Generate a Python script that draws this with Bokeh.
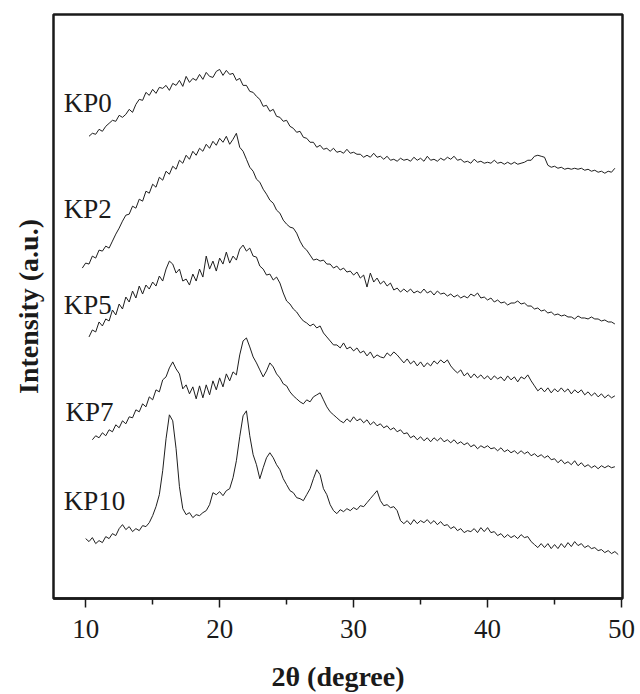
import numpy as np
from bokeh.plotting import figure
from bokeh.models import Range1d, FixedTicker, Label, Title
from bokeh.embed import file_html
from bokeh.resources import INLINE

STEP = 0.25
sample_names = ["KP0", "KP2", "KP5", "KP7", "KP10"]
start_deg = {"KP0": 10.25, "KP2": 9.75, "KP5": 10.25, "KP7": 10.5, "KP10": 10.0}

kp0 = [463, 466, 465, 470, 468, 473, 476, 479,
       478, 484, 482, 485, 490, 487, 495, 500,
       499, 507, 504, 510, 506, 512, 511, 514,
       509, 516, 514, 519, 513, 523, 517, 521,
       519, 525, 520, 527, 523, 522, 528, 530,
       524, 529, 525, 526, 519, 521, 514, 514,
       508, 507, 503, 500, 493, 494, 488, 490,
       483, 482, 478, 479, 473, 471, 467, 468,
       462, 461, 457, 457, 452, 454, 450, 451,
       448, 451, 447, 448, 446, 450, 446, 447,
       445, 445, 442, 444, 442, 446, 442, 443,
       440, 443, 439, 440, 438, 441, 439, 440,
       438, 442, 439, 441, 438, 443, 439, 440,
       438, 441, 439, 442, 440, 443, 439, 440,
       437, 438, 436, 440, 437, 438, 436, 437,
       436, 439, 436, 437, 435, 437, 435, 437,
       435, 436, 437, 439, 439, 443, 444, 443,
       442, 434, 432, 433, 431, 432, 430, 431,
       430, 431, 430, 431, 429, 430, 428, 429,
       427, 428, 426, 428, 427, 431]

kp2 = [331, 336, 335, 343, 341, 349, 348, 353,
       351, 358, 365, 371, 378, 384, 385, 393,
       391, 400, 398, 408, 406, 415, 412, 422,
       419, 428, 425, 433, 430, 439, 436, 444,
       440, 448, 444, 451, 448, 455, 451, 458,
       454, 461, 457, 463, 455, 460, 466, 452,
       448, 440, 432, 428, 420, 417, 410, 405,
       399, 396, 389, 386, 379, 375, 372, 371,
       366, 358, 352, 349, 344, 339, 340, 338,
       339, 335, 335, 331, 333, 329, 331, 327,
       328, 324, 327, 321, 324, 312, 326, 317,
       321, 315, 318, 313, 316, 309, 311, 307,
       310, 307, 310, 306, 308, 306, 310, 306,
       308, 304, 308, 305, 306, 303, 305, 302,
       304, 301, 303, 301, 305, 303, 306, 301,
       302, 299, 301, 297, 299, 296, 297, 294,
       296, 296, 298, 295, 296, 293, 293, 290,
       291, 288, 289, 286, 287, 284, 285, 283,
       284, 282, 282, 280, 283, 281, 281, 280,
       282, 280, 280, 278, 279, 277, 277, 275]

kp5 = [262, 269, 267, 277, 273, 280, 278, 289,
       284, 295, 290, 302, 297, 308, 301, 313,
       305, 314, 310, 317, 313, 323, 318, 330,
       338, 335, 326, 330, 318, 320, 314, 325,
       318, 330, 322, 343, 330, 338, 328, 341,
       335, 347, 336, 343, 339, 350, 354, 348,
       351, 343, 342, 333, 330, 324, 325, 319,
       322, 316, 306, 298, 295, 290, 287, 282,
       278, 276, 273, 275, 271, 273, 266, 262,
       258, 254, 254, 251, 256, 250, 252, 248,
       251, 246, 248, 243, 247, 241, 244, 242,
       241, 246, 243, 247, 244, 240, 236, 240,
       235, 238, 233, 237, 232, 236, 233, 238,
       235, 239, 236, 239, 233, 229, 226, 229,
       223, 226, 221, 225, 221, 224, 220, 223,
       219, 223, 220, 222, 218, 223, 219, 222,
       217, 222, 220, 224, 218, 213, 208, 211,
       207, 211, 206, 210, 207, 211, 207, 210,
       205, 209, 206, 209, 204, 207, 203, 206,
       202, 205, 201, 204, 201, 203]

kp7 = [159, 163, 161, 166, 163, 169, 167, 174,
       171, 178, 175, 182, 181, 189, 187, 195,
       192, 202, 199, 209, 207, 219, 222, 231,
       237, 230, 225, 210, 214, 205, 212, 200,
       213, 201, 214, 204, 218, 209, 221, 212,
       225, 218, 227, 224, 244, 258, 261, 252,
       242, 236, 229, 222, 228, 236, 232, 225,
       221, 215, 213, 207, 203, 200, 197, 195,
       199, 197, 202, 204, 206, 199, 192, 187,
       184, 181, 178, 176, 180, 177, 182, 178,
       180, 176, 179, 174, 177, 173, 175, 171,
       173, 169, 171, 167, 169, 165, 166, 161,
       163, 159, 162, 158, 161, 157, 161, 158,
       161, 157, 159, 156, 159, 155, 157, 154,
       156, 152, 154, 150, 153, 151, 153, 150,
       151, 148, 151, 147, 149, 146, 148, 145,
       148, 145, 147, 143, 145, 142, 144, 141,
       143, 139, 140, 136, 139, 135, 137, 134,
       138, 133, 136, 132, 134, 131, 133, 130,
       133, 131, 133, 131, 132]

kp10 = [60, 57, 61, 55, 58, 56, 62, 60, 65, 63, 70, 74, 69, 72, 67, 70, 68, 73, 72, 76,
        83, 92, 104, 128, 160, 184, 178, 150, 112, 90, 84, 86, 81, 84, 83, 86, 88, 94, 106, 104,
        107, 103, 108, 110, 121, 138, 162, 183, 188, 163, 144, 134, 120, 131, 141, 146, 141, 134, 129, 120,
        114, 108, 106, 101, 100, 98, 104, 110, 120, 129, 124, 110, 104, 94, 88, 85, 89, 87, 90, 88,
        91, 89, 93, 92, 96, 100, 104, 108, 98, 93, 94, 91, 92, 88, 78, 75, 78, 74, 79, 75,
        78, 76, 79, 75, 78, 74, 77, 73, 74, 70, 72, 68, 70, 66, 68, 67, 70, 66, 71, 67,
        71, 66, 67, 63, 65, 61, 64, 61, 63, 60, 64, 61, 62, 57, 54, 51, 55, 51, 55, 50,
        54, 50, 55, 51, 56, 52, 57, 53, 55, 51, 53, 50, 51, 48, 49, 46, 48, 45, 47, 44]

series = {"KP0": kp0, "KP2": kp2, "KP5": kp5, "KP7": kp7, "KP10": kp10}

# label anchor positions (deg, intensity)
label_x = {"KP0": 8.36, "KP2": 8.36, "KP5": 8.36, "KP7": 8.5, "KP10": 8.36}
label_y = {"KP0": 496, "KP2": 390, "KP5": 294, "KP7": 187, "KP10": 98}

x_ticks = [10, 20, 30, 40, 50]
x_minor = [15, 25, 35, 45]

FONT = "Liberation Serif"
INK = "#1a1a1a"

p = figure(width=638, height=694, output_backend="svg", toolbar_location=None,
           x_range=Range1d(7.6, 50.07), y_range=Range1d(0, 585),
           min_border_left=53, min_border_right=16, min_border_top=14, min_border_bottom=95)
p.background_fill_color = "white"
p.border_fill_color = "white"
p.grid.visible = False
p.outline_line_color = INK
p.outline_line_width = 2.5
p.outline_line_alpha = 1

p.yaxis.visible = False
ax = p.xaxis[0]
ax.ticker = FixedTicker(ticks=x_ticks, minor_ticks=x_minor)
ax.axis_line_color = INK
ax.axis_line_width = 2.5
ax.major_tick_in = 0
ax.major_tick_out = 9
ax.minor_tick_in = 0
ax.minor_tick_out = 6
ax.major_tick_line_width = 1.5
ax.minor_tick_line_width = 1.5
ax.major_tick_line_color = INK
ax.minor_tick_line_color = INK
ax.major_label_text_font = FONT
ax.major_label_text_font_size = "27px"
ax.major_label_text_color = INK
ax.major_label_standoff = 12
ax.axis_label = "2θ (degree)"
ax.axis_label_text_font = FONT
ax.axis_label_text_font_style = "bold"
ax.axis_label_text_font_size = "28px"
ax.axis_label_text_color = INK
ax.axis_label_standoff = 20

ytitle = Title(text="Intensity (a.u.)", align="center", offset=26,
               text_font=FONT, text_font_style="bold", text_font_size="28px",
               text_color=INK, standoff=20)
p.add_layout(ytitle, "left")

for name in sample_names:
    vals = np.array(series[name], dtype=float)
    xs = start_deg[name] + STEP * np.arange(len(vals))
    p.line(xs, vals, line_color="#1e1e1e", line_width=1.0)
    p.add_layout(Label(x=label_x[name], y=label_y[name], text=name, text_font=FONT,
                       text_font_size="27px", text_color=INK,
                       text_align="left", text_baseline="middle"))

open("out.html", "w").write(file_html(p, INLINE))
